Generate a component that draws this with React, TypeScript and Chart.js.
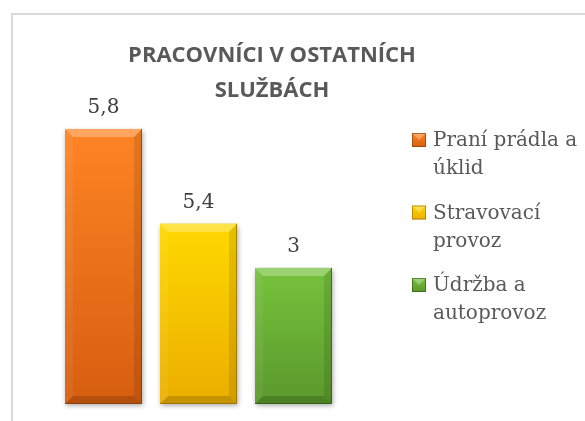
import React, { useEffect, useRef } from "react";
import { Chart, registerables } from "chart.js";

Chart.register(...registerables);

// ---- data ----
const categories = ["Praní prádla a úklid", "Stravovací provoz", "Údržba a autoprovoz"];
// bar heights (labels in the picture are shown separately)
const barValues = [5.8, 3.8, 2.87];
const valueLabels = ["5,8", "5,4", "3"];
const titleLines = ["PRACOVNÍCI V OSTATNÍCH", "SLUŽBÁCH"];
const yMax = 6.2;

const palette = [
  { top: "#FF8424", bottom: "#D65E10", dark: "#7A3A08" },
  { top: "#FFD800", bottom: "#EBAE00", dark: "#8C6A00" },
  { top: "#76C23C", bottom: "#5A982C", dark: "#2F5218" },
];

const SERIF = "'DejaVu Serif', serif";
const SANS = "'Open Sans', sans-serif";

function wrap(ctx: CanvasRenderingContext2D, text: string, maxW: number): string[] {
  const words = text.split(" ");
  const lines: string[] = [];
  let cur = "";
  for (const w of words) {
    const t = cur ? cur + " " + w : w;
    if (cur && ctx.measureText(t).width > maxW) {
      lines.push(cur);
      cur = w;
    } else cur = t;
  }
  if (cur) lines.push(cur);
  return lines;
}

const bevelPlugin = {
  id: "bevel",
  beforeDatasetsDraw(chart: any) {
    const ctx = chart.ctx;
    const meta = chart.getDatasetMeta(0);
    ctx.save();
    meta.data.forEach((el: any, i: number) => {
      const L = el.x - el.width / 2;
      const top = el.y;
      const h = el.base - el.y;
      ctx.shadowColor = "rgba(0,0,0,0.35)";
      ctx.shadowBlur = 5;
      ctx.shadowOffsetX = 1;
      ctx.shadowOffsetY = 2;
      ctx.fillStyle = palette[i].bottom;
      ctx.fillRect(L, top, el.width, h);
    });
    ctx.restore();
  },
  afterDatasetsDraw(chart: any) {
    const ctx = chart.ctx;
    const meta = chart.getDatasetMeta(0);
    const b = 8;
    meta.data.forEach((el: any, i: number) => {
      const L = el.x - el.width / 2;
      const R = el.x + el.width / 2;
      const T = el.y;
      const B = el.base;
      const poly = (pts: number[][], fill: string) => {
        ctx.beginPath();
        ctx.moveTo(pts[0][0], pts[0][1]);
        for (let k = 1; k < pts.length; k++) ctx.lineTo(pts[k][0], pts[k][1]);
        ctx.closePath();
        ctx.fillStyle = fill;
        ctx.fill();
      };
      ctx.save();
      poly([[L, T], [R, T], [R - b, T + b], [L + b, T + b]], "rgba(255,255,255,0.28)");
      poly([[L, B], [R, B], [R - b, B - b], [L + b, B - b]], "rgba(0,0,0,0.16)");
      poly([[L, T], [L + b, T + b], [L + b, B - b], [L, B]], "rgba(255,255,255,0.06)");
      poly([[R, T], [R - b, T + b], [R - b, B - b], [R, B]], "rgba(0,0,0,0.10)");
      ctx.strokeStyle = palette[i].dark;
      ctx.globalAlpha = 0.7;
      ctx.lineWidth = 1;
      ctx.beginPath();
      ctx.moveTo(R - 0.5, T);
      ctx.lineTo(R - 0.5, B - 0.5);
      ctx.lineTo(L, B - 0.5);
      ctx.stroke();
      ctx.restore();
    });
  },
};

const labelsPlugin = {
  id: "valueLabels",
  afterDatasetsDraw(chart: any) {
    const ctx = chart.ctx;
    const meta = chart.getDatasetMeta(0);
    ctx.save();
    ctx.font = `20px ${SERIF}`;
    ctx.fillStyle = "#404040";
    ctx.textAlign = "center";
    ctx.textBaseline = "alphabetic";
    meta.data.forEach((el: any, i: number) => {
      ctx.fillText(valueLabels[i], el.x, el.y - 16);
    });
    ctx.restore();
  },
};

const titlePlugin = {
  id: "customTitle",
  afterDraw(chart: any) {
    const ctx = chart.ctx;
    ctx.save();
    ctx.font = `bold 22px ${SANS}`;
    ctx.fillStyle = "#595959";
    ctx.textAlign = "center";
    ctx.textBaseline = "alphabetic";
    titleLines.forEach((t, k) => ctx.fillText(t, 272, 62 + k * 35));
    ctx.restore();
  },
};

const legendPlugin = {
  id: "customLegend",
  afterDraw(chart: any) {
    const ctx = chart.ctx;
    ctx.save();
    ctx.font = `20px ${SERIF}`;
    ctx.textAlign = "left";
    ctx.textBaseline = "alphabetic";
    const mx = 412;
    const tx = 433;
    const size = 14;
    let y = 133;
    categories.forEach((c, i) => {
      const g = ctx.createLinearGradient(0, y, 0, y + size);
      g.addColorStop(0, palette[i].top);
      g.addColorStop(1, palette[i].bottom);
      ctx.fillStyle = g;
      ctx.fillRect(mx, y, size, size);
      ctx.fillStyle = "rgba(255,255,255,0.3)";
      ctx.beginPath();
      ctx.moveTo(mx, y);
      ctx.lineTo(mx + size, y);
      ctx.lineTo(mx + size / 2, y + size / 2);
      ctx.closePath();
      ctx.fill();
      ctx.strokeStyle = palette[i].dark;
      ctx.globalAlpha = 0.6;
      ctx.strokeRect(mx + 0.5, y + 0.5, size - 1, size - 1);
      ctx.globalAlpha = 1;
      ctx.fillStyle = "#595959";
      const lines = wrap(ctx, c, 150);
      lines.forEach((ln, k) => ctx.fillText(ln, tx, y + 13 + k * 28));
      y += 72.5;
    });
    ctx.restore();
  },
};

export default function App() {
  const ref = useRef<HTMLCanvasElement | null>(null);
  useEffect(() => {
    if (!ref.current) return;
    const chart = new Chart(ref.current, {
      type: "bar",
      data: {
        labels: categories,
        datasets: [
          {
            data: barValues,
            backgroundColor: (c: any) => {
              const ch = c.chart;
              const area = ch.chartArea;
              const i = c.dataIndex ?? 0;
              const ys = ch.scales && ch.scales.y;
              if (!area || !ys) return palette[i].top;
              const y0 = ys.getPixelForValue(barValues[i]);
              if (!Number.isFinite(y0) || !Number.isFinite(area.bottom)) return palette[i].top;
              const g = ch.ctx.createLinearGradient(0, y0, 0, area.bottom);
              g.addColorStop(0, palette[i].top);
              g.addColorStop(1, palette[i].bottom);
              return g;
            },
            borderWidth: 0,
            barPercentage: 0.81,
            categoryPercentage: 1,
          },
        ],
      },
      options: {
        responsive: false,
        animation: false,
        layout: { padding: { left: 56, right: 244, top: 110, bottom: 17 } },
        plugins: {
          legend: { display: false },
          title: { display: false },
          tooltip: { enabled: false },
        },
        scales: {
          x: { display: false },
          y: { display: false, min: 0, max: yMax },
        },
      },
      plugins: [bevelPlugin, labelsPlugin, titlePlugin, legendPlugin],
    });
    return () => chart.destroy();
  }, []);
  return (
    <div style={{ position: "absolute", left: 0, top: 0, width: 585, height: 421, overflow: "hidden", background: "#fff" }}>
      <div
        style={{
          position: "absolute",
          left: 11,
          top: 13,
          width: 600,
          height: 430,
          border: "2px solid #d9d9d9",
          boxSizing: "border-box",
        }}
      />
      <canvas ref={ref} width={585} height={421} style={{ position: "absolute", left: 0, top: 0 }} />
    </div>
  );
}
